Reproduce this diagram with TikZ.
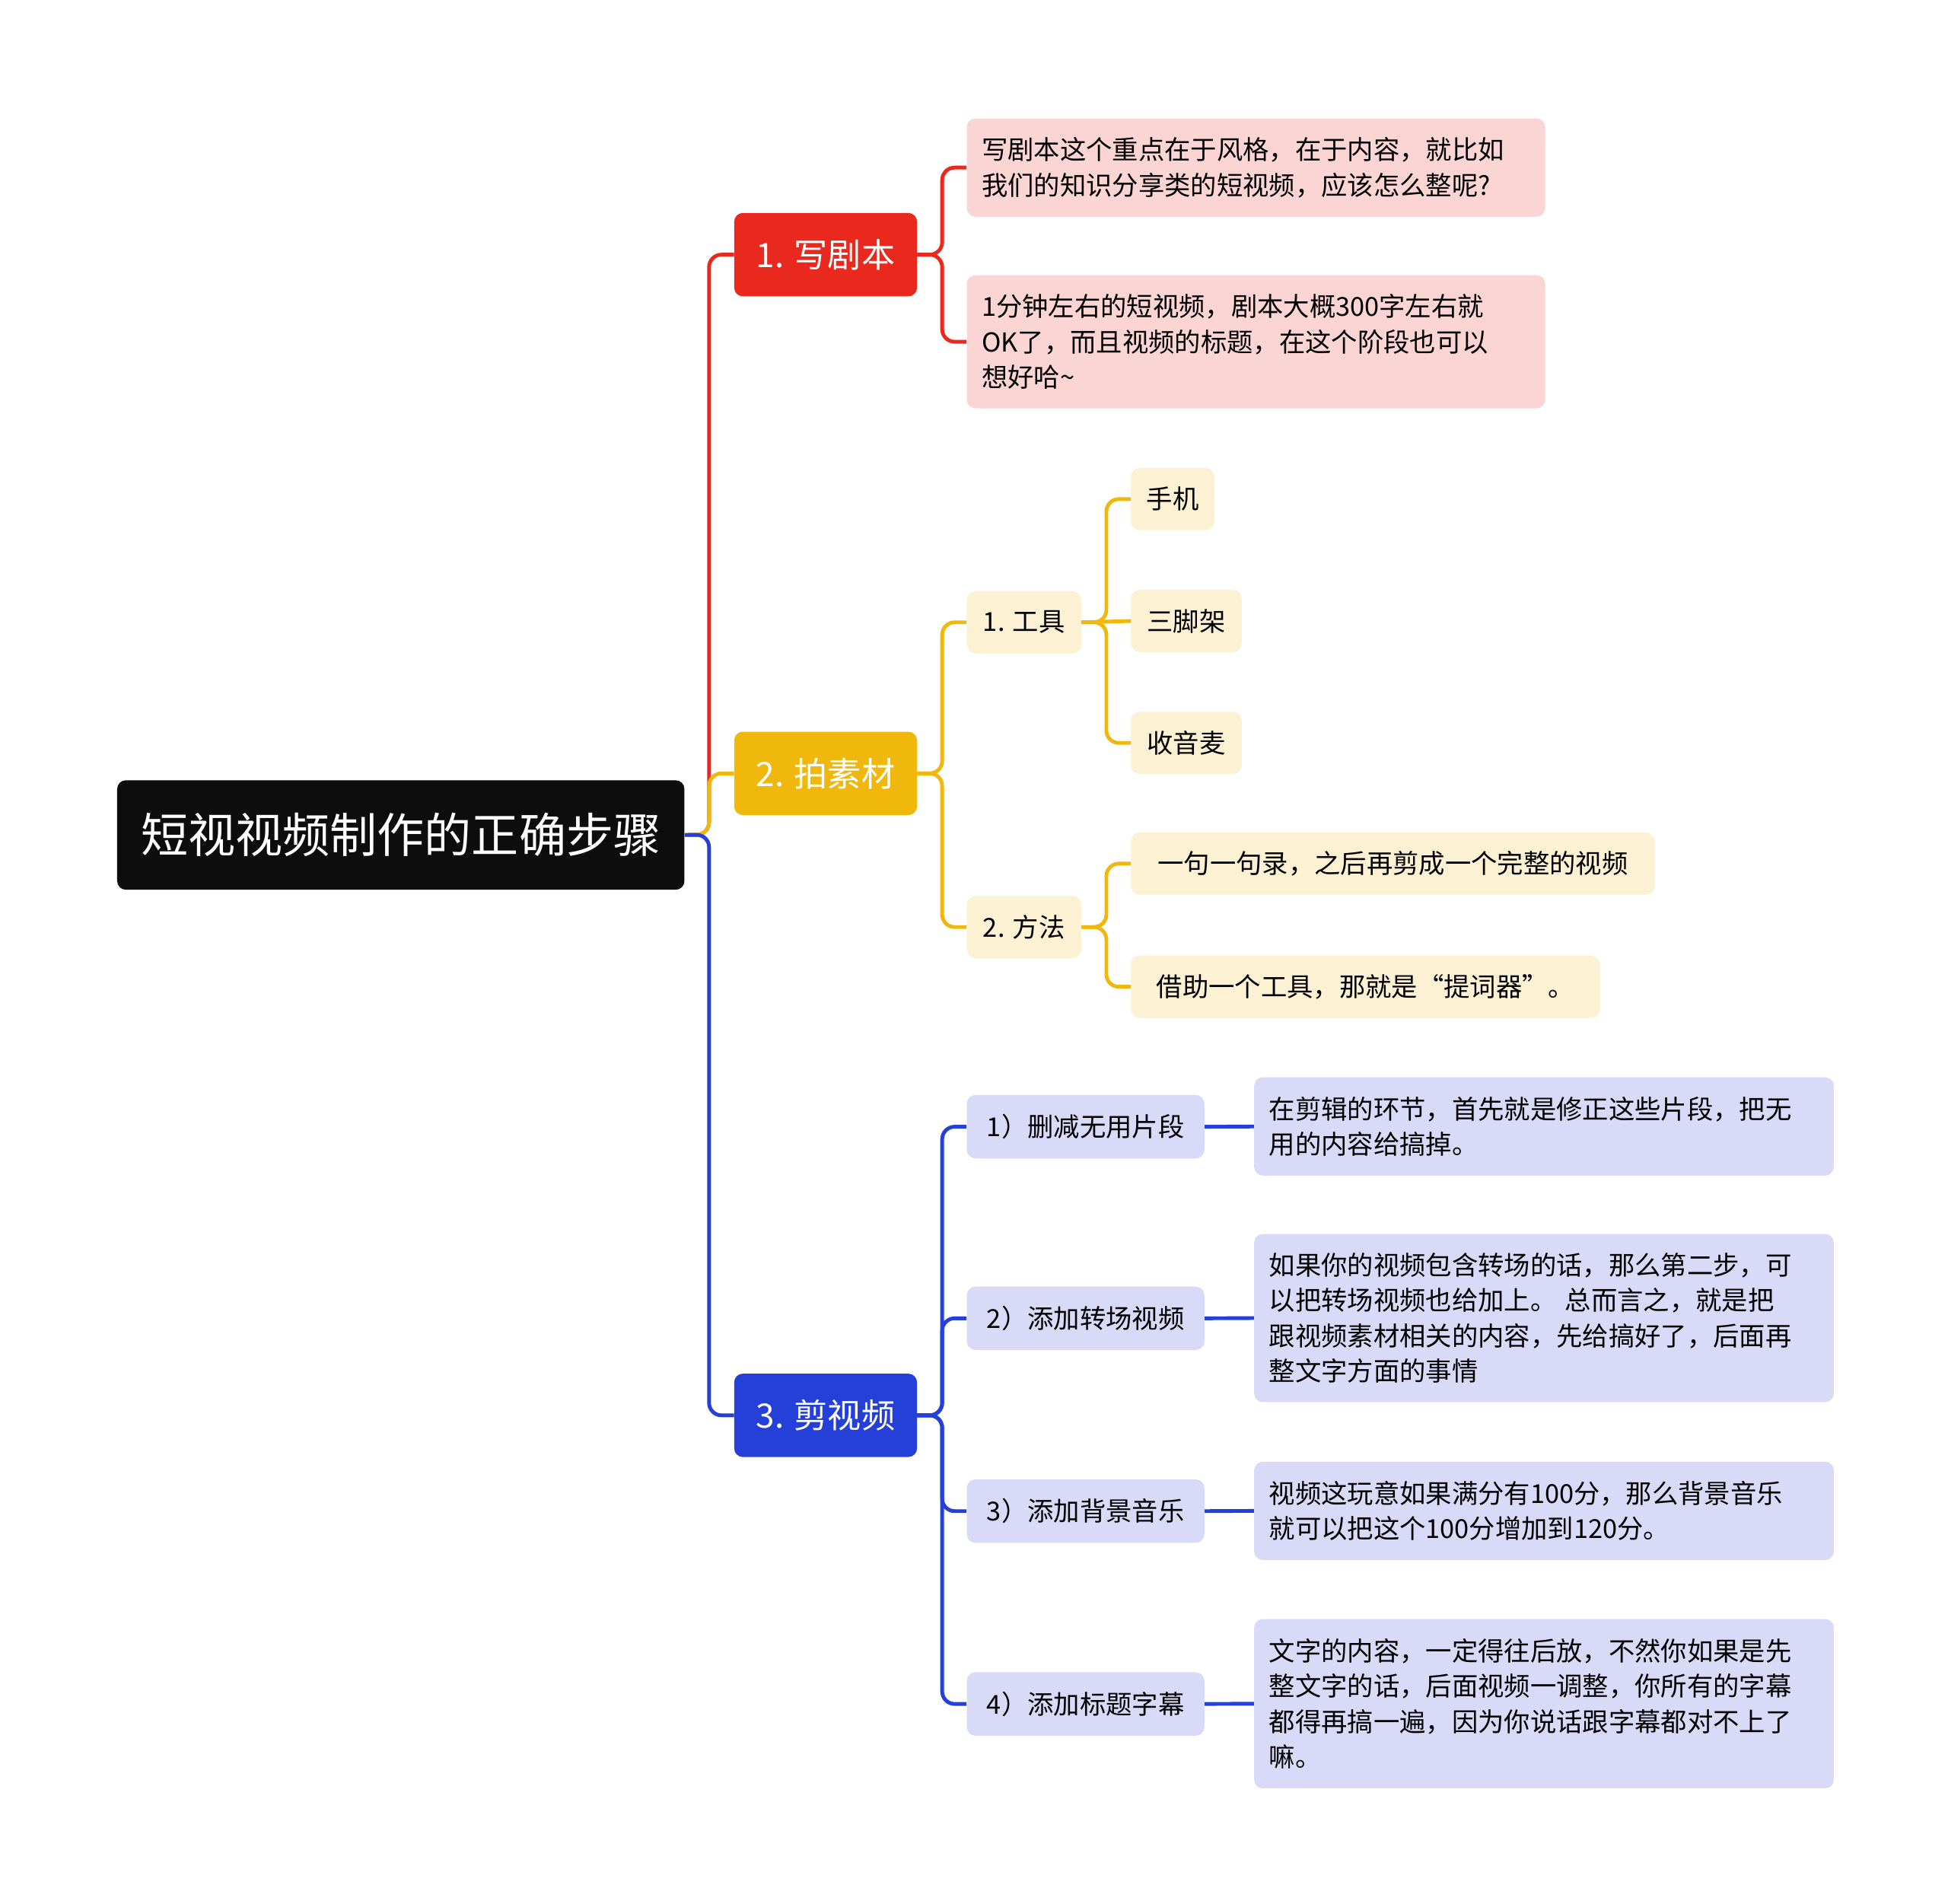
\documentclass[tikz,border=0pt]{standalone}
\usepackage{fontspec}
\setmainfont{Noto Sans CJK SC}
\begin{document}
\begin{tikzpicture}[x=1pt,y=-1pt,
  box/.style={rounded corners=7pt,anchor=north west,inner xsep=12pt,inner ysep=0pt,align=left,font=\fontsize{21}{28.5}\selectfont},
  l1/.style={box,text=white,font=\fontsize{27}{32}\selectfont,align=center,inner xsep=0pt},
  con/.style={line width=3pt,rounded corners=10pt}]
\useasboundingbox[fill=white] (0,0) rectangle (1566,1530.5);
\node[box,fill=black!95,text=white,minimum width=456pt,minimum height=88pt,font=\fontsize{38}{44}\selectfont] (root) at (94,627) {短视视频制作的正确步骤};
\node[l1,fill={rgb,255:red,233;green,40;blue,30},minimum width=147pt,minimum height=67pt] (a) at (590,171) {1. 写剧本};
\node[l1,fill={rgb,255:red,240;green,184;blue,12},minimum width=147pt,minimum height=67pt] (b) at (590,588) {2. 拍素材};
\node[l1,fill={rgb,255:red,36;green,64;blue,216},minimum width=147pt,minimum height=67pt] (c) at (590,1104) {3. 剪视频};
\coordinate (t) at (570,671);
\draw[con,draw={rgb,255:red,233;green,40;blue,30}] (root.east) -- (t) |- (a.west);
\draw[con,draw={rgb,255:red,240;green,184;blue,12}] (root.east) -- (t) |- (b.west);
\draw[con,draw={rgb,255:red,36;green,64;blue,216}] (root.east) -- (t) |- (c.west);
% red
\tikzset{rl/.style={box,fill={rgb,255:red,251;green,213;blue,211},text width=441pt}}
\node[rl,minimum height=79pt] (a1) at (777,95) {写剧本这个重点在于风格，在于内容，就比如\\我们的知识分享类的短视频，应该怎么整呢?};
\node[rl,minimum height=107pt] (a2) at (777,221) {1分钟左右的短视频，剧本大概300字左右就\\OK了，而且视频的标题，在这个阶段也可以\\想好哈\textasciitilde};
\foreach \n in {a1,a2}\draw[con,draw={rgb,255:red,233;green,40;blue,30}] (a.east) -- ++(20,0) |- (\n.west);
% yellow
\tikzset{yl/.style={box,fill={rgb,255:red,253;green,241;blue,211},minimum height=50pt},
  yc/.style={con,draw={rgb,255:red,240;green,184;blue,12}}}
\node[yl,minimum width=92pt] (b1) at (777,475) {1. 工具};
\node[yl,minimum width=92pt] (b2) at (777,720) {2. 方法};
\node[yl,minimum width=67pt] (b11) at (909,376) {手机};
\node[yl,minimum width=89pt] (b12) at (909,474) {三脚架};
\node[yl,minimum width=89pt] (b13) at (909,572) {收音麦};
\node[yl,minimum width=421pt] (b21) at (909,669) {一句一句录，之后再剪成一个完整的视频};
\node[yl,minimum width=377pt] (b22) at (909,768) {借助一个工具，那就是“提词器”。};
\foreach \n in {b1,b2}\draw[yc] (b.east) -- ++(20,0) |- (\n.west);
\foreach \n in {b11,b13}\draw[yc] (b1.east) -- ++(20,0) |- (\n.west);
\draw[yc] (b1.east) -- (b12.west);
\foreach \n in {b21,b22}\draw[yc] (b2.east) -- ++(20,0) |- (\n.west);
% blue
\tikzset{bl/.style={box,fill={rgb,255:red,216;green,218;blue,247}},
  bs/.style={bl,minimum width=191pt,minimum height=51pt},
  bt/.style={bl,text width=442pt},
  bc/.style={con,draw={rgb,255:red,36;green,64;blue,216}}}
\node[bs] (c1) at (777,880) {1）删减无用片段};
\node[bs] (c2) at (777,1034) {2）添加转场视频};
\node[bs] (c3) at (777,1189) {3）添加背景音乐};
\node[bs] (c4) at (777,1344) {4）添加标题字幕};
\node[bt,minimum height=79pt,anchor=west] (d1) at (1008,905.5) {在剪辑的环节，首先就是修正这些片段，把无\\用的内容给搞掉。};
\node[bt,minimum height=135pt,anchor=west] (d2) at (1008,1059.5) {如果你的视频包含转场的话，那么第二步，可\\以把转场视频也给加上。 总而言之，就是把\\跟视频素材相关的内容，先给搞好了，后面再\\整文字方面的事情};
\node[bt,minimum height=79pt,anchor=west] (d3) at (1008,1214.5) {视频这玩意如果满分有100分，那么背景音乐\\就可以把这个100分增加到120分。};
\node[bt,minimum height=136pt,anchor=west] (d4) at (1008,1369.5) {文字的内容，一定得往后放，不然你如果是先\\整文字的话，后面视频一调整，你所有的字幕\\都得再搞一遍，因为你说话跟字幕都对不上了\\嘛。};
\foreach \n in {c1,c2,c3,c4}\draw[bc] (c.east) -- ++(20,0) |- (\n.west);
\foreach \i in {1,2,3,4}\draw[bc] (c\i.east) -- (d\i.west);
\end{tikzpicture}
\end{document}
